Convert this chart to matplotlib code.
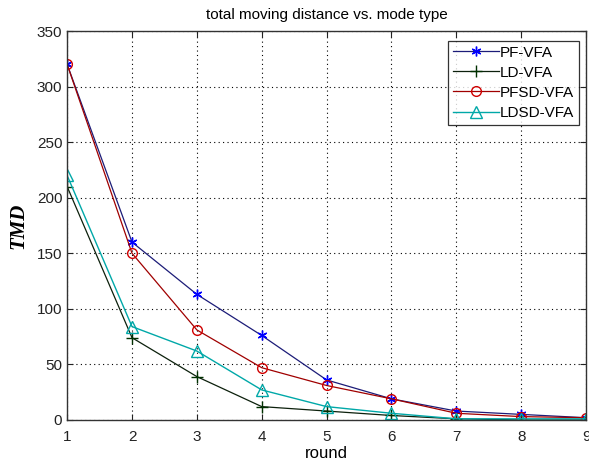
import matplotlib
matplotlib.use('Agg')
import matplotlib.pyplot as plt

# data
rounds = [1, 2, 3, 4, 5, 6, 7, 8, 9]
pf_vfa = [320, 160, 113, 76, 36, 19, 8, 5, 2]
ld_vfa = [210, 74, 39, 12, 8, 4, 1, 0, 0]
pfsd_vfa = [320, 150, 81, 47, 31, 19, 6, 3, 2]
ldsd_vfa = [220, 84, 62, 27, 12, 6, 1, 1, 1]

plt.rcParams['font.family'] = ['Liberation Sans', 'DejaVu Sans']

fig = plt.figure(figsize=(5.89, 4.63), dpi=100)
ax = fig.add_axes([0.114, 0.093, 0.881, 0.840])

ax.plot(rounds, pf_vfa, color='#1c1c78', lw=0.9, marker=(6, 2, 0), ms=7,
        mec='#0000ff', mew=1.0, label='PF-VFA')
ax.plot(rounds, ld_vfa, color='#0c200c', lw=0.9, marker='+', ms=9,
        mec='#003000', mew=1.0, label='LD-VFA')
ax.plot(rounds, pfsd_vfa, color='#a00000', lw=0.9, marker='o', ms=7,
        mfc='none', mec='#d00000', mew=1.0, label='PFSD-VFA')
ax.plot(rounds, ldsd_vfa, color='#00a8a8', lw=1.0, marker='^', ms=8,
        mfc='none', mec='#00a8a8', mew=1.0, label='LDSD-VFA')

ax.set_xlim(1, 9)
ax.set_ylim(0, 350)
ax.set_xticks(rounds)
ax.set_yticks(range(0, 351, 50))
ax.grid(True, color='black', linestyle=(0, (1, 3)), lw=0.8)
ax.tick_params(direction='in', top=True, right=True, length=4,
               labelsize=11, colors='#222222')
ax.tick_params(axis='x', pad=7)
for s in ax.spines.values():
    s.set_color('#333333')
    s.set_linewidth(1.0)

ax.set_title('total moving distance vs. mode type', fontsize=11, pad=9)
ax.set_xlabel('round', fontsize=12, labelpad=2)
ax.set_ylabel('TMD', fontsize=15, fontweight='bold', fontstyle='italic',
              family='Liberation Serif', labelpad=6)

leg = ax.legend(loc='upper right', fontsize=11, frameon=True, fancybox=False,
                edgecolor='black', borderpad=0.3, labelspacing=0.4,
                handlelength=3.0, handletextpad=0.1, borderaxespad=0.4,
                bbox_to_anchor=(0.998, 0.99))
leg.get_frame().set_linewidth(0.9)

fig.savefig('out.png', dpi=100)
